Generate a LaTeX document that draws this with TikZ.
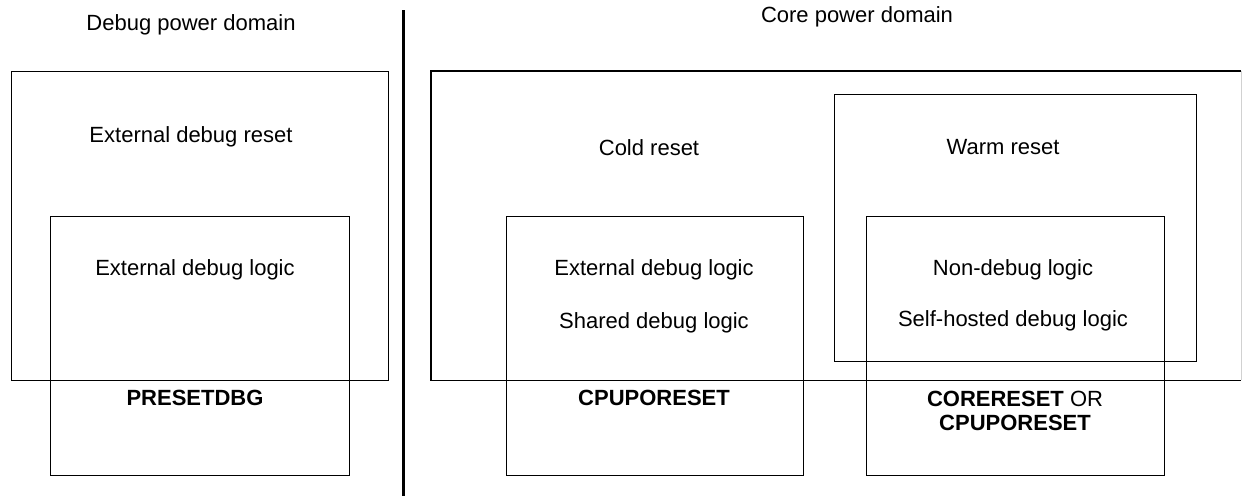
\documentclass[tikz,border=0pt]{standalone}
\usepackage{fontspec}
\setmainfont{Liberation Sans}
\begin{document}
\begin{tikzpicture}[x=1pt,y=-1pt,
  box/.style={draw=black, line width=1.2pt, anchor=north west, inner sep=0pt},
  lbl/.style={font=\fontsize{22}{24}\selectfont, inner sep=0pt, align=center},
  divider/.style={line width=3pt, black}]
\useasboundingbox (0,0) rectangle (1242,496);
% Debug power domain
\node[box, minimum width=377pt, minimum height=309pt] (dbgreset) at (11,71) {};
\node[box, minimum width=299pt, minimum height=259pt] (dbglogic) at (50,216) {};
\node[lbl] (dbgtitle) at (191,25) {Debug power domain};
\node[lbl] (dbgresettxt) at (191,137) {External debug reset};
\node[lbl] (dbglogictxt) at (195,270) {External debug logic};
\node[lbl] (presetdbg) at (195,398) {\textbf{PRESETDBG}};
% divider
\coordinate (divtop) at (403,10);
\coordinate (divbot) at (403,496);
\draw[divider] (divtop) -- (divbot);
% Core power domain
\node[inner sep=0pt, anchor=north west, minimum width=810pt, minimum height=309pt] (core) at (431,71) {};
\draw[line width=1.2pt] (core.north east) -- (core.north west) -- (core.south west) -- (core.south east);
\draw[line width=1.2pt, black!18] (core.north east) -- (core.south east);
\node[lbl] (coretitle) at (857,17) {Core power domain};
\node[lbl] (coldtxt) at (649,148) {Cold reset};
\node[box, minimum width=297pt, minimum height=259pt] (shared) at (506,216) {};
\node[lbl] (extlogic) at (654,270) {External debug logic};
\node[lbl] (sharedlogic) at (654,323) {Shared debug logic};
\node[lbl] (cpupo) at (654,398) {\textbf{CPUPORESET}};
\node[box, minimum width=362pt, minimum height=267pt] (warm) at (834,94) {};
\node[lbl] (warmtxt) at (1003,147) {Warm reset};
\node[box, minimum width=298pt, minimum height=259pt] (nondbg) at (866,216) {};
\node[lbl] (nondbgtxt) at (1013,270) {Non-debug logic};
\node[lbl] (selftxt) at (1013,321) {Self-hosted debug logic};
\node[lbl] (corereset) at (1015,411) {\textbf{CORERESET} OR\\\textbf{CPUPORESET}};
\end{tikzpicture}
\end{document}
